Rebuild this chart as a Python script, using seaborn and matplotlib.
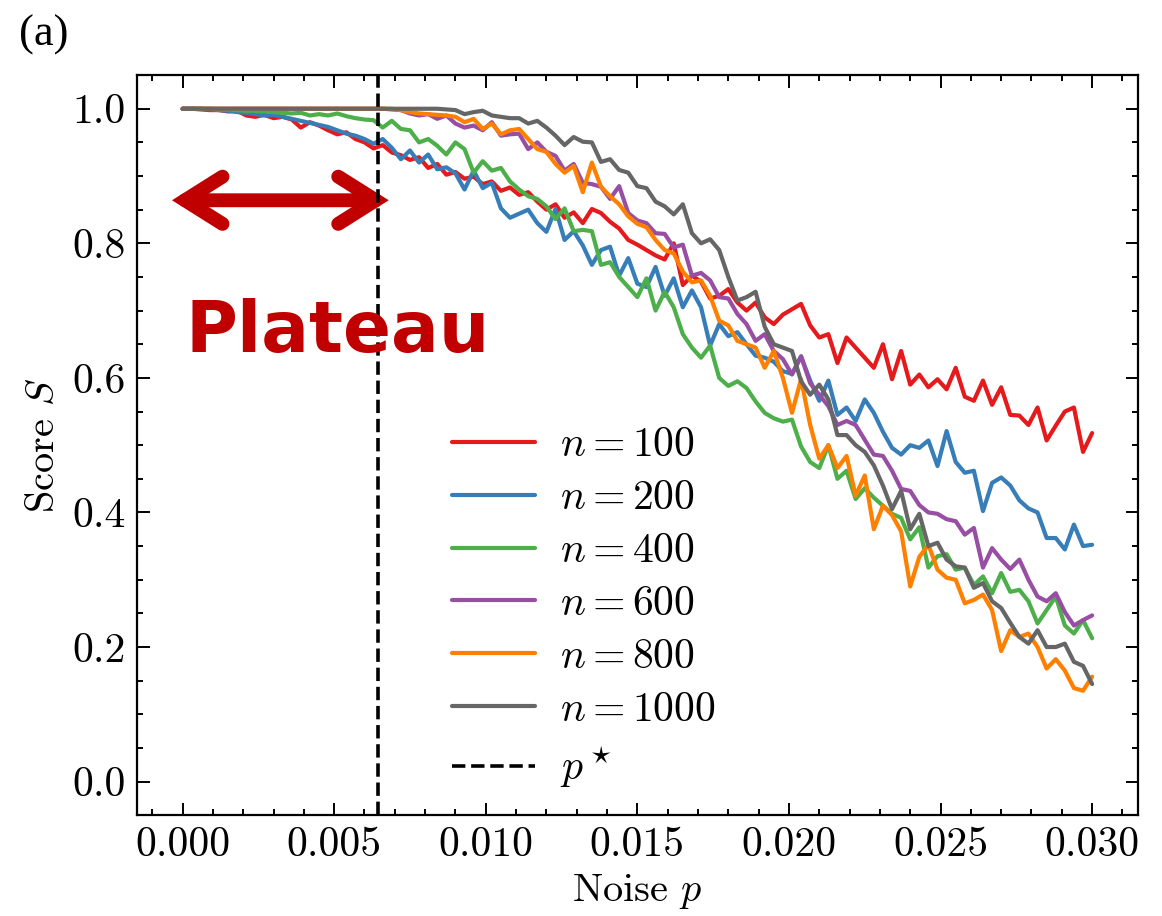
import numpy as np
import pandas as pd
import seaborn as sns
import matplotlib.pyplot as plt
from matplotlib.patches import FancyArrowPatch
from matplotlib.ticker import MultipleLocator, FormatStrFormatter

# noise grid (0 .. 0.03, step 0.0003)
p = np.linspace(0, 0.03, 101)
p_star = 0.00645

labels = [r"$n = 100$", r"$n = 200$", r"$n = 400$", r"$n = 600$", r"$n = 800$", r"$n = 1000$"]
colors = ["#e41a1c", "#377eb8", "#4daf4a", "#984ea3", "#ff7f00", "#666666"]

s100 = [1.000, 1.000, 0.999, 0.998, 0.998, 0.996, 0.997, 0.990, 0.988, 0.991,
        0.986, 0.988, 0.984, 0.972, 0.980, 0.975, 0.968, 0.962, 0.965, 0.955,
        0.950, 0.941, 0.946, 0.935, 0.931, 0.924, 0.928, 0.912, 0.918, 0.902,
        0.906, 0.896, 0.899, 0.888, 0.892, 0.878, 0.883, 0.872, 0.876, 0.862,
        0.850, 0.858, 0.838, 0.846, 0.830, 0.851, 0.845, 0.832, 0.822, 0.805,
        0.798, 0.790, 0.782, 0.776, 0.800, 0.738, 0.752, 0.743, 0.718, 0.722,
        0.732, 0.712, 0.700, 0.712, 0.690, 0.680, 0.694, 0.702, 0.710, 0.678,
        0.660, 0.665, 0.622, 0.660, 0.645, 0.630, 0.615, 0.650, 0.598, 0.640,
        0.590, 0.605, 0.586, 0.598, 0.583, 0.615, 0.572, 0.566, 0.596, 0.560,
        0.586, 0.545, 0.544, 0.530, 0.556, 0.507, 0.529, 0.550, 0.556, 0.490,
        0.518]
s200 = [1.000, 1.000, 1.000, 0.999, 0.998, 0.997, 0.995, 0.994, 0.992, 0.990,
        0.991, 0.988, 0.985, 0.982, 0.979, 0.976, 0.973, 0.968, 0.963, 0.960,
        0.955, 0.948, 0.955, 0.942, 0.925, 0.938, 0.920, 0.932, 0.910, 0.913,
        0.904, 0.880, 0.908, 0.882, 0.890, 0.852, 0.838, 0.844, 0.850, 0.830,
        0.817, 0.851, 0.805, 0.818, 0.797, 0.768, 0.790, 0.795, 0.752, 0.778,
        0.740, 0.735, 0.765, 0.722, 0.748, 0.705, 0.730, 0.705, 0.648, 0.680,
        0.662, 0.668, 0.650, 0.633, 0.630, 0.624, 0.610, 0.606, 0.632, 0.596,
        0.566, 0.596, 0.545, 0.556, 0.536, 0.568, 0.548, 0.520, 0.496, 0.486,
        0.500, 0.496, 0.507, 0.469, 0.521, 0.475, 0.459, 0.462, 0.402, 0.444,
        0.452, 0.440, 0.418, 0.406, 0.400, 0.362, 0.362, 0.345, 0.382, 0.350,
        0.352]
s400 = [1.000, 1.000, 1.000, 1.000, 0.999, 0.999, 0.998, 0.997, 0.997, 0.996,
        0.995, 0.994, 0.993, 0.994, 0.990, 0.992, 0.990, 0.993, 0.989, 0.986,
        0.984, 0.983, 0.972, 0.982, 0.970, 0.968, 0.950, 0.955, 0.945, 0.932,
        0.950, 0.940, 0.905, 0.922, 0.908, 0.912, 0.892, 0.880, 0.870, 0.866,
        0.855, 0.836, 0.852, 0.818, 0.820, 0.818, 0.768, 0.772, 0.750, 0.735,
        0.720, 0.748, 0.700, 0.728, 0.705, 0.665, 0.645, 0.630, 0.648, 0.600,
        0.588, 0.595, 0.585, 0.565, 0.548, 0.540, 0.535, 0.538, 0.498, 0.475,
        0.466, 0.500, 0.450, 0.462, 0.420, 0.436, 0.422, 0.410, 0.398, 0.392,
        0.360, 0.378, 0.318, 0.335, 0.338, 0.315, 0.318, 0.292, 0.305, 0.280,
        0.310, 0.282, 0.285, 0.268, 0.235, 0.255, 0.275, 0.232, 0.220, 0.240,
        0.213]
s600 = [1.000, 1.000, 1.000, 1.000, 1.000, 1.000, 1.000, 1.000, 1.000, 1.000,
        1.000, 1.000, 1.000, 1.000, 1.000, 1.000, 1.000, 1.000, 1.000, 1.000,
        1.000, 1.000, 1.000, 0.999, 0.998, 0.993, 0.990, 0.992, 0.985, 0.990,
        0.978, 0.972, 0.975, 0.968, 0.980, 0.960, 0.962, 0.963, 0.940, 0.950,
        0.936, 0.930, 0.908, 0.918, 0.890, 0.888, 0.884, 0.866, 0.885, 0.845,
        0.834, 0.830, 0.815, 0.814, 0.794, 0.798, 0.752, 0.756, 0.745, 0.720,
        0.718, 0.695, 0.680, 0.655, 0.665, 0.640, 0.628, 0.605, 0.632, 0.592,
        0.575, 0.558, 0.530, 0.536, 0.530, 0.508, 0.486, 0.484, 0.462, 0.435,
        0.432, 0.411, 0.400, 0.398, 0.390, 0.387, 0.367, 0.377, 0.318, 0.347,
        0.330, 0.316, 0.330, 0.300, 0.275, 0.268, 0.280, 0.252, 0.232, 0.240,
        0.247]
s800 = [1.000, 1.000, 1.000, 1.000, 1.000, 1.000, 1.000, 1.000, 1.000, 1.000,
        1.000, 1.000, 1.000, 1.000, 1.000, 1.000, 1.000, 1.000, 1.000, 1.000,
        1.000, 1.000, 1.000, 1.000, 0.998, 0.995, 0.993, 0.992, 0.991, 0.990,
        0.988, 0.980, 0.985, 0.970, 0.978, 0.962, 0.968, 0.970, 0.955, 0.940,
        0.936, 0.918, 0.905, 0.915, 0.876, 0.920, 0.884, 0.870, 0.858, 0.840,
        0.829, 0.824, 0.805, 0.790, 0.785, 0.758, 0.742, 0.745, 0.722, 0.685,
        0.678, 0.655, 0.650, 0.645, 0.615, 0.640, 0.600, 0.548, 0.598, 0.530,
        0.480, 0.500, 0.466, 0.484, 0.425, 0.455, 0.375, 0.410, 0.396, 0.372,
        0.290, 0.334, 0.352, 0.315, 0.303, 0.300, 0.265, 0.270, 0.278, 0.255,
        0.194, 0.225, 0.215, 0.220, 0.200, 0.168, 0.182, 0.165, 0.139, 0.135,
        0.156]
s1000 = [1.000, 1.000, 1.000, 1.000, 1.000, 1.000, 1.000, 1.000, 1.000, 1.000,
         1.000, 1.000, 1.000, 1.000, 1.000, 1.000, 1.000, 1.000, 1.000, 1.000,
         1.000, 1.000, 1.000, 1.000, 1.000, 1.000, 1.000, 1.000, 1.000, 0.999,
         0.998, 0.992, 0.995, 0.997, 0.990, 0.988, 0.986, 0.986, 0.978, 0.982,
         0.972, 0.960, 0.946, 0.958, 0.951, 0.950, 0.921, 0.925, 0.909, 0.905,
         0.885, 0.882, 0.862, 0.855, 0.843, 0.858, 0.815, 0.800, 0.806, 0.790,
         0.750, 0.715, 0.720, 0.728, 0.676, 0.650, 0.645, 0.640, 0.595, 0.575,
         0.590, 0.568, 0.515, 0.515, 0.500, 0.490, 0.470, 0.440, 0.405, 0.432,
         0.375, 0.398, 0.350, 0.355, 0.330, 0.320, 0.318, 0.288, 0.295, 0.268,
         0.258, 0.236, 0.215, 0.205, 0.225, 0.200, 0.200, 0.205, 0.178, 0.172,
         0.145]

series = [s100, s200, s400, s600, s800, s1000]

df = pd.DataFrame({
    "p": np.tile(p, len(series)),
    "S": np.concatenate(series),
    "label": np.repeat(labels, len(p)),
})

sns.set_style("ticks")
plt.rcParams["font.family"] = "serif"
plt.rcParams["font.serif"] = ["cmr10"]
plt.rcParams["mathtext.fontset"] = "cm"
plt.rcParams["axes.formatter.use_mathtext"] = True
plt.rcParams["axes.unicode_minus"] = False
for k in ["text.color", "axes.labelcolor", "xtick.color", "ytick.color", "axes.edgecolor"]:
    plt.rcParams[k] = "black"

fig = plt.figure(figsize=(11.62, 9.16), dpi=100)
ax = fig.add_axes([0.118, 0.110, 0.861, 0.808])

LW = 3.0
sns.lineplot(data=df, x="p", y="S", hue="label", hue_order=labels,
             palette=colors, lw=LW, estimator=None, ax=ax)
vline = ax.axvline(p_star, color="k", ls="--", lw=2.6, label=r"$p^\star$")

leg = ax.get_legend()
handles = list(leg.legend_handles) + [vline]
texts = [t.get_text() for t in leg.texts] + [r"$p^\star$"]
for h in handles[:-1]:
    h.set_linewidth(LW)
ax.legend(handles, texts, frameon=False, loc="lower left",
          bbox_to_anchor=(0.277, -0.017), fontsize=30, handlelength=2.0,
          handletextpad=0.6, labelspacing=0.37)

# plateau annotation
arrow = FancyArrowPatch((-0.00035, 0.864), (0.00680, 0.864),
                        arrowstyle="<->,head_length=0.27,head_width=0.17",
                        mutation_scale=100, lw=10, color="#c00000",
                        capstyle="round", joinstyle="miter",
                        shrinkA=0, shrinkB=0)
ax.add_patch(arrow)
ax.text(0.0001, 0.638, "Plateau", fontsize=51, fontweight="bold",
        family="DejaVu Sans", color="#c00000", va="baseline", ha="left")

ax.set_xlim(-0.0015, 0.0315)
ax.set_ylim(-0.05, 1.05)
ax.xaxis.set_major_locator(MultipleLocator(0.005))
ax.xaxis.set_minor_locator(MultipleLocator(0.001))
ax.yaxis.set_major_locator(MultipleLocator(0.2))
ax.yaxis.set_minor_locator(MultipleLocator(0.05))
ax.xaxis.set_major_formatter(FormatStrFormatter("%.3f"))
ax.yaxis.set_major_formatter(FormatStrFormatter("%.1f"))
ax.tick_params(which="both", direction="in", top=True, right=True,
               labelsize=30, width=1.4, pad=8)
ax.tick_params(which="major", length=9)
ax.tick_params(which="minor", length=4.5)
for sp in ax.spines.values():
    sp.set_linewidth(1.6)

ax.set_xlabel(r"Noise $p$", fontsize=29, labelpad=6)
ax.set_ylabel(r"Score $S$", fontsize=29, labelpad=8)

fig.text(0.016, 0.950, "(a)", fontsize=32, family="Liberation Serif")

fig.savefig("out.png", dpi=100)
